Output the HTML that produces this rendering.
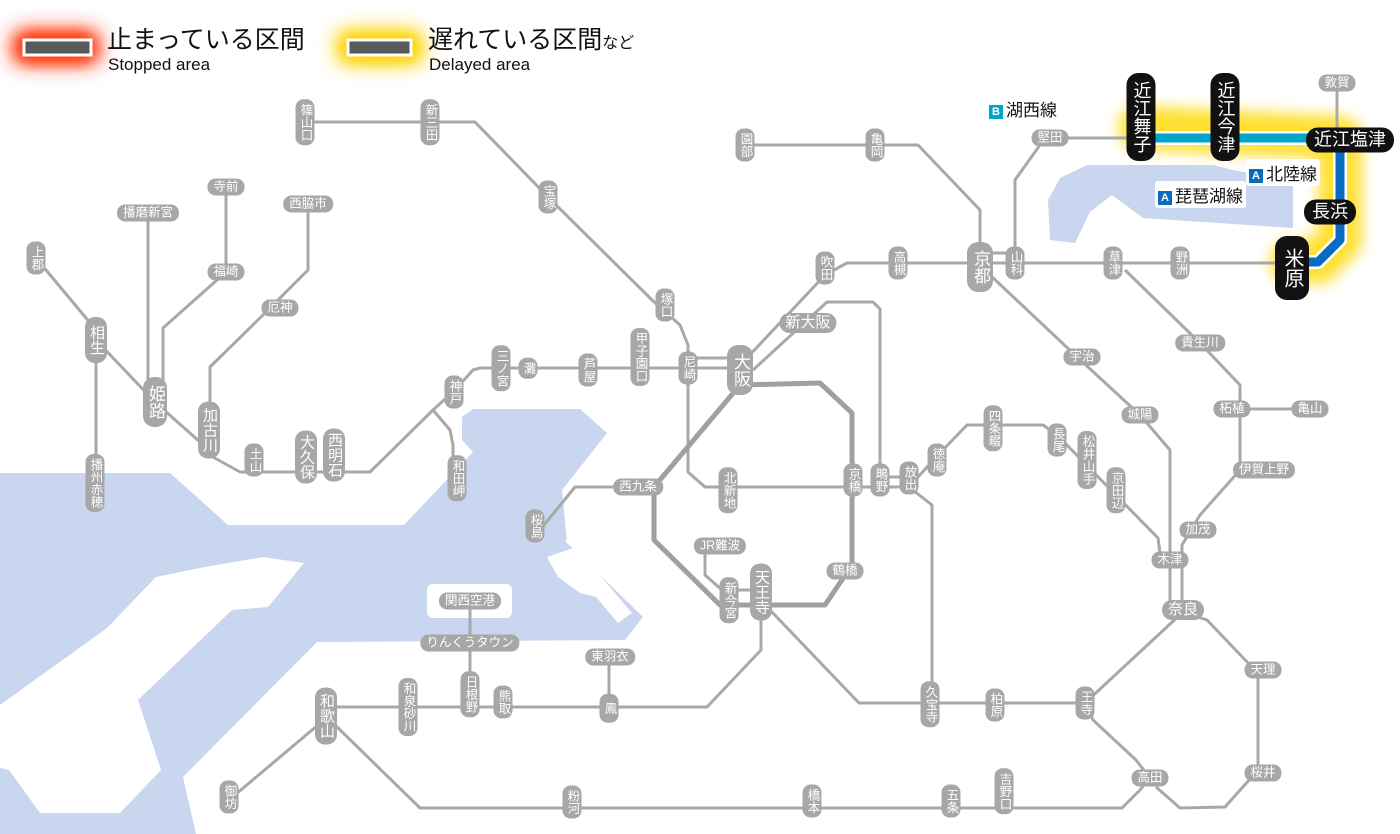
<!DOCTYPE html>
<html><head><meta charset="utf-8">
<style>
html,body{margin:0;padding:0;background:#fff;}
body{width:1400px;height:834px;position:relative;overflow:hidden;font-family:"Liberation Sans","Noto Sans CJK JP",sans-serif;}
svg{position:absolute;left:0;top:0;}
.s{position:absolute;transform:translate(-50%,-50%);background:#a7a7a7;color:#fff;border-radius:8px;font-size:12.5px;line-height:13px;white-space:nowrap;font-family:"Liberation Sans","Noto Sans CJK JP",sans-serif;}
.v{writing-mode:vertical-rl;padding:4px 3px;}
.h{padding:2px 6px;}
.b{font-size:17px;line-height:18px;border-radius:11px;}
.m{font-size:15px;line-height:16px;border-radius:10px;}
.k{background:#111;font-size:18px;line-height:19px;border-radius:12px;}
.k.v{padding:8px 5px;}
.k.h{padding:3px 8px;}
.lab{position:absolute;font-size:17px;color:#111;background:#fff;padding:1px 3px;border-radius:3px;white-space:nowrap;}
.bd{display:inline-block;width:14px;height:14px;color:#fff;font-size:11px;line-height:14px;text-align:center;margin-right:3px;vertical-align:1px;font-weight:bold;}
.lg{position:absolute;color:#111;white-space:nowrap;}
</style></head><body>
<svg width="1400" height="834" viewBox="0 0 1400 834">
<defs>
<filter id="bl" x="-80%" y="-150%" width="260%" height="400%"><feGaussianBlur stdDeviation="10"/></filter>
<filter id="bl2" x="-50%" y="-50%" width="200%" height="200%"><feGaussianBlur stdDeviation="7"/></filter>
</defs>
<!-- water -->
<polygon fill="#c9d6ef" points="0,473 170,473 228,525 404,525 473,452 462,440 462,417 473,409 580,409 607,433 562,490 567,543 643,617 625,640 317,642 183,777 196,834 0,834"/>
<polygon fill="#fff" points="0,705 107,628 156,577 205,567 263,557 304,563 268,607 232,610 138,700 161,770 120,813 40,813 9,770 0,768"/>
<rect x="427" y="584" width="85" height="34" rx="6" fill="#fff"/>
<polygon fill="#fff" points="547,557 576,547 632,613 618,623 596,597 580,593 558,577"/>
<polyline fill="none" stroke="#fff" stroke-width="4" points="594,500 567,543"/>
<polygon fill="#c9d6ef" points="1048,200 1060,178 1087,165 1213,165 1233,170 1287,180 1293,187 1293,228 1143,218 1112,195 1090,212 1075,243 1050,240"/>
<!-- legend glows -->
<rect x="12" y="30" width="88" height="34" rx="12" fill="#ff2a00" filter="url(#bl)"/>
<rect x="20" y="36" width="72" height="24" rx="8" fill="#ff3a10" filter="url(#bl2)"/>
<rect x="336" y="30" width="88" height="34" rx="12" fill="#ffd400" filter="url(#bl)"/>
<rect x="344" y="36" width="72" height="24" rx="8" fill="#ffd000" filter="url(#bl2)"/>
<rect x="24" y="40" width="67" height="15" fill="#5a5a5a" stroke="#fff" stroke-width="3"/>
<rect x="348" y="40" width="63" height="15" fill="#5a5a5a" stroke="#fff" stroke-width="3"/>
<!-- yellow glow on lines -->
<polyline fill="none" stroke="#ffd800" stroke-width="44" stroke-linejoin="round" stroke-linecap="round" opacity="0.8" filter="url(#bl2)" points="1140,128 1340,138 1340,240 1318,262 1292,262"/>
<polyline fill="none" stroke="#ffd800" stroke-width="34" stroke-linecap="round" opacity="0.7" filter="url(#bl2)" points="1292,240 1292,290"/>
<!-- gray lines -->
<g fill="none" stroke="#a8a8a8" stroke-width="3" stroke-linejoin="round">
<polyline points="305,122 475,122 548,197 652,300 680,325 688,345 688,368"/>
<polyline points="688,368 688,472 705,487 853,487 909,487"/>
<polyline points="880,477 909,477"/>
<polyline points="36,258 96,330 96,483"/>
<polyline points="96,340 155,402 209,450 213,457 240,472 370,472 433,410 453,392 473,370 480,368 740,368"/>
<polyline points="688,358 740,358"/>
<polyline points="433,410 450,430 453,445 453,478"/>
<polyline points="148,213 148,402"/>
<polyline points="226,187 226,272 163,328 163,400"/>
<polyline points="308,204 308,270 263,315 210,367 210,430"/>
<polyline points="745,360 825,275 847,263 1292,263"/>
<polyline points="753,370 827,302 873,302 880,309 880,480"/>
<polyline points="980,260 980,210 918,145 745,145"/>
<polyline points="980,253 1015,253"/>
<polyline points="1015,263 1015,180 1040,145 1050,138 1140,138"/>
<polyline points="1337,83 1337,138"/>
<polyline points="990,275 1075,355 1140,415 1170,450 1170,610"/>
<polyline points="1125,270 1200,343 1240,385 1240,470 1200,515 1182,545 1182,610"/>
<polyline points="1232,409 1310,409"/>
<polyline points="620,487 575,487 540,530"/>
<polyline points="720,546 705,552 705,575 722,590"/>
<polyline points="761,600 761,650 707,707 326,707"/>
<polyline points="770,610 859,703 1085,703 1183,612"/>
<polyline points="1183,612 1207,620 1250,665 1258,670 1258,770 1225,807 1180,808 1156,787"/>
<polyline points="1085,703 1093,720 1136,760 1150,778 1140,790 1122,808 420,808 335,725"/>
<polyline points="318,725 229,800"/>
<polyline points="470,601 470,694"/>
<polyline points="609,657 609,707"/>
<polyline points="909,487 938,455 967,425 1043,425 1057,435 1158,538 1160,553"/>
<polyline points="909,487 932,505 932,704"/>
<polyline points="729,590 761,590"/>
</g>
<!-- osaka loop thicker -->
<polyline fill="none" stroke="#a0a0a0" stroke-width="5" stroke-linejoin="round" points="740,385 820,383 852,413 852,565 825,605 720,605 654,540 654,487 740,385"/>
<!-- colored lines -->
<polyline fill="none" stroke="#fff" stroke-width="14" points="1140,138 1345,138"/>
<polyline fill="none" stroke="#00a5c8" stroke-width="9" points="1140,138 1345,138"/>
<polyline fill="none" stroke="#fff" stroke-width="14" stroke-linejoin="round" points="1340,140 1340,240 1318,262 1292,262"/>
<polyline fill="none" stroke="#0a6cc0" stroke-width="9" stroke-linejoin="round" points="1340,140 1340,240 1318,262 1292,262"/>
</svg>

<!-- legend text -->
<div class="lg" style="left:107px;top:25px;font-size:25px;line-height:30px;">止まっている区間</div>
<div class="lg" style="left:108px;top:55px;font-size:17px;line-height:20px;">Stopped area</div>
<div class="lg" style="left:428px;top:25px;font-size:25px;line-height:30px;">遅れている区間<span style="font-size:16px">など</span></div>
<div class="lg" style="left:429px;top:55px;font-size:17px;line-height:20px;">Delayed area</div>

<!-- line labels -->
<div class="lab" style="left:986px;top:95px;"><span class="bd" style="background:#00a5c8">B</span>湖西線</div>
<div class="lab" style="left:1246px;top:159px;"><span class="bd" style="background:#0a6cc0">A</span>北陸線</div>
<div class="lab" style="left:1155px;top:181px;"><span class="bd" style="background:#0a6cc0">A</span>琵琶湖線</div>

<!-- stations -->
<div class="s v" style="left:305px;top:122px">篠山口</div>
<div class="s v" style="left:430px;top:122px">新三田</div>
<div class="s v" style="left:548px;top:197px">宝塚</div>
<div class="s v" style="left:665px;top:305px">塚口</div>
<div class="s v" style="left:688px;top:368px">尼崎</div>
<div class="s v b" style="left:740px;top:370px;padding:8px 4px">大阪</div>
<div class="s h m" style="left:808px;top:323px">新大阪</div>
<div class="s v" style="left:825px;top:268px">吹田</div>
<div class="s v" style="left:898px;top:263px">高槻</div>
<div class="s v b" style="left:980px;top:267px;padding:8px 4px">京都</div>
<div class="s v" style="left:1015px;top:263px">山科</div>
<div class="s v" style="left:745px;top:145px">園部</div>
<div class="s v" style="left:875px;top:145px">亀岡</div>
<div class="s h" style="left:1050px;top:138px">堅田</div>
<div class="s v" style="left:1113px;top:263px">草津</div>
<div class="s v" style="left:1180px;top:263px">野洲</div>
<div class="s h" style="left:1337px;top:83px">敦賀</div>
<div class="s v k" style="left:1141px;top:117px">近江舞子</div>
<div class="s v k" style="left:1225px;top:117px">近江今津</div>
<div class="s h k" style="left:1350px;top:140px">近江塩津</div>
<div class="s h k" style="left:1330px;top:212px">長浜</div>
<div class="s v k" style="left:1292px;top:268px;font-size:20px;line-height:22px;padding:12px 6px">米原</div>

<div class="s v" style="left:36px;top:258px">上郡</div>
<div class="s h" style="left:148px;top:213px">播磨新宮</div>
<div class="s h" style="left:226px;top:187px">寺前</div>
<div class="s h" style="left:226px;top:272px">福崎</div>
<div class="s h" style="left:308px;top:204px">西脇市</div>
<div class="s v m" style="left:96px;top:340px;padding:8px 3px">相生</div>
<div class="s v b" style="left:155px;top:402px;padding:8px 3px">姫路</div>
<div class="s h" style="left:280px;top:308px">厄神</div>
<div class="s v m" style="left:209px;top:430px;padding:6px 3px">加古川</div>
<div class="s v" style="left:95px;top:483px">播州赤穂</div>
<div class="s v" style="left:254px;top:460px">土山</div>
<div class="s v m" style="left:306px;top:457px">大久保</div>
<div class="s v m" style="left:334px;top:455px">西明石</div>
<div class="s v" style="left:454px;top:392px">神戸</div>
<div class="s v" style="left:457px;top:478px">和田岬</div>
<div class="s v" style="left:501px;top:368px">三ノ宮</div>
<div class="s v" style="left:528px;top:368px">灘</div>
<div class="s v" style="left:588px;top:370px">芦屋</div>
<div class="s v" style="left:640px;top:357px">甲子園口</div>

<div class="s h" style="left:638px;top:487px">西九条</div>
<div class="s v" style="left:535px;top:526px">桜島</div>
<div class="s v" style="left:728px;top:490px">北新地</div>
<div class="s v" style="left:853px;top:480px">京橋</div>
<div class="s v" style="left:880px;top:480px">鴫野</div>
<div class="s v" style="left:909px;top:478px">放出</div>
<div class="s v" style="left:937px;top:460px">徳庵</div>
<div class="s v" style="left:993px;top:428px">四条畷</div>
<div class="s v" style="left:1057px;top:440px">長尾</div>
<div class="s v" style="left:1087px;top:460px">松井山手</div>
<div class="s v" style="left:1116px;top:490px">京田辺</div>
<div class="s h" style="left:1082px;top:357px">宇治</div>
<div class="s h" style="left:1140px;top:415px">城陽</div>
<div class="s h" style="left:1170px;top:560px">木津</div>
<div class="s h m" style="left:1183px;top:610px">奈良</div>
<div class="s h" style="left:1198px;top:530px">加茂</div>
<div class="s h" style="left:1264px;top:470px">伊賀上野</div>
<div class="s h" style="left:1232px;top:409px">柘植</div>
<div class="s h" style="left:1310px;top:409px">亀山</div>
<div class="s h" style="left:1200px;top:343px">貴生川</div>

<div class="s h" style="left:720px;top:546px">JR難波</div>
<div class="s v" style="left:729px;top:600px">新今宮</div>
<div class="s v m" style="left:761px;top:592px;padding:6px 3px">天王寺</div>
<div class="s h" style="left:845px;top:571px">鶴橋</div>

<div class="s h" style="left:470px;top:601px">関西空港</div>
<div class="s h" style="left:470px;top:643px">りんくうタウン</div>
<div class="s h" style="left:610px;top:657px">東羽衣</div>
<div class="s v" style="left:609px;top:708px;padding:8px 3px">鳳</div>
<div class="s v" style="left:503px;top:702px">熊取</div>
<div class="s v" style="left:470px;top:694px">日根野</div>
<div class="s v" style="left:408px;top:707px">和泉砂川</div>
<div class="s v m" style="left:326px;top:716px;padding:6px 3px">和歌山</div>
<div class="s v" style="left:229px;top:797px">御坊</div>
<div class="s v" style="left:572px;top:802px">粉河</div>
<div class="s v" style="left:812px;top:801px">橋本</div>
<div class="s v" style="left:951px;top:801px">五条</div>
<div class="s v" style="left:1004px;top:791px">吉野口</div>
<div class="s v" style="left:930px;top:704px">久宝寺</div>
<div class="s v" style="left:995px;top:705px">柏原</div>
<div class="s v" style="left:1085px;top:703px">王寺</div>
<div class="s h" style="left:1150px;top:778px">高田</div>
<div class="s h" style="left:1263px;top:670px">天理</div>
<div class="s h" style="left:1263px;top:773px">桜井</div>
</body></html>
